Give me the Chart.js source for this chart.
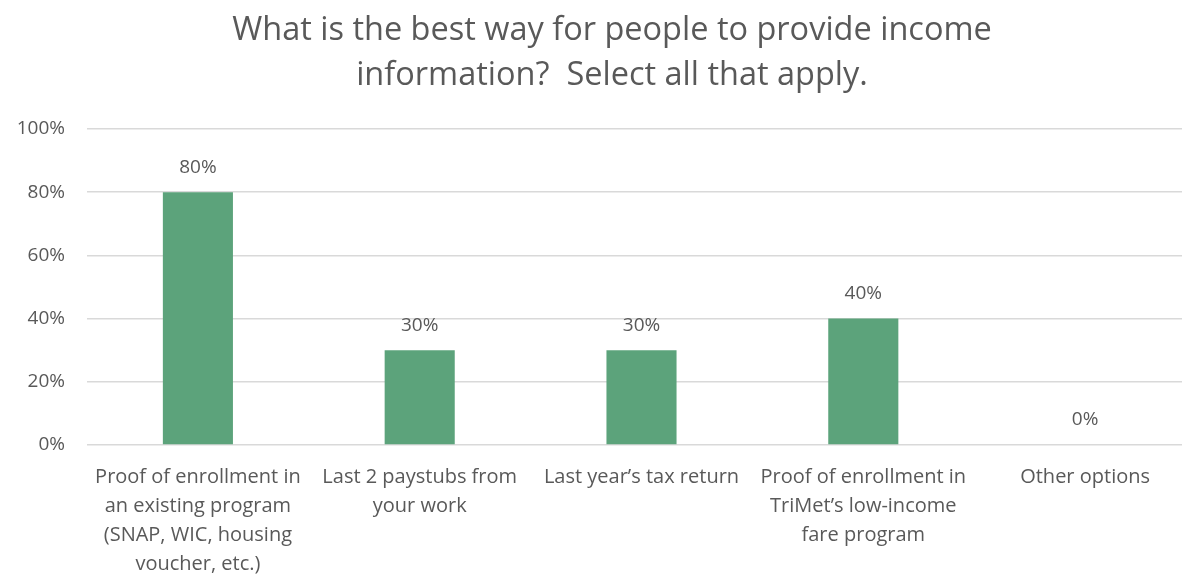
<!DOCTYPE html>
<html>
<head>
<meta charset="utf-8">
<script src="https://cdn.jsdelivr.net/npm/chart.js@4/dist/chart.umd.min.js"></script>
<style>
  html, body { margin: 0; padding: 0; background: #fff; overflow: hidden; }
  #wrap { width: 1182px; height: 575px; overflow: hidden; }
</style>
</head>
<body>
<div id="wrap"><canvas id="incomeChart" width="1196" height="575"></canvas></div>
<script>
const categories = [
  ["Proof of enrollment in", "an existing program", "(SNAP, WIC, housing", "voucher, etc.)"],
  ["Last 2 paystubs from", "your work"],
  "Last year\u2019s tax return",
  ["Proof of enrollment in", "TriMet\u2019s low-income", "fare program"],
  "Other options"
];
const shares = [80, 30, 30, 40, 0];
const titleLines = ["What is the best way for people to provide income", "information?  Select all that apply."];

const textColor = "#595959";
const fontName = "'Open Sans', sans-serif";

// two-line heading, a little right of the canvas middle like the plot area
const heading = {
  id: "heading",
  afterDraw(chart) {
    const ctx = chart.ctx;
    ctx.save();
    ctx.font = "32.5px " + fontName;
    ctx.fillStyle = textColor;
    ctx.textAlign = "center";
    ctx.textBaseline = "middle";
    titleLines.forEach((line, i) => ctx.fillText(line, 612, 31 + i * 45));
    ctx.restore();
  }
};

// prints the percentage over each bar
const valueLabels = {
  id: "valueLabels",
  afterDatasetsDraw(chart) {
    const ctx = chart.ctx;
    const meta = chart.getDatasetMeta(0);
    ctx.save();
    ctx.font = "19px " + fontName;
    ctx.fillStyle = textColor;
    ctx.textAlign = "center";
    ctx.textBaseline = "middle";
    meta.data.forEach((bar, i) => {
      ctx.fillText(shares[i] + "%", bar.x, bar.y - 25);
    });
    ctx.restore();
  }
};

new Chart("incomeChart", {
  type: "bar",
  data: {
    labels: categories,
    datasets: [{
      data: shares,
      backgroundColor: "#5ca37b",
      barPercentage: 1,
      categoryPercentage: 0.316
    }]
  },
  options: {
    responsive: false,
    animation: false,
    layout: { padding: { left: 0, right: 0, top: 129, bottom: 0 } },
    plugins: {
      legend: { display: false },
      tooltip: { enabled: false },
      title: { display: false }
    },
    scales: {
      x: {
        grid: { display: false },
        border: { display: false },
        afterFit: scale => { scale.height = 130; },
        ticks: {
          color: textColor,
          font: { family: fontName, size: 20, lineHeight: 1.45 },
          maxRotation: 0,
          autoSkip: false,
          padding: 10
        }
      },
      y: {
        min: 0,
        max: 100,
        afterFit: scale => { scale.width = 87; },
        grid: { color: "#d9d9d9", lineWidth: 1.5, drawTicks: false },
        border: { display: false },
        ticks: {
          stepSize: 20,
          color: textColor,
          font: { family: fontName, size: 19 },
          padding: 22,
          callback: v => v + "%"
        }
      }
    }
  },
  plugins: [valueLabels, heading]
});
</script>
</body>
</html>
